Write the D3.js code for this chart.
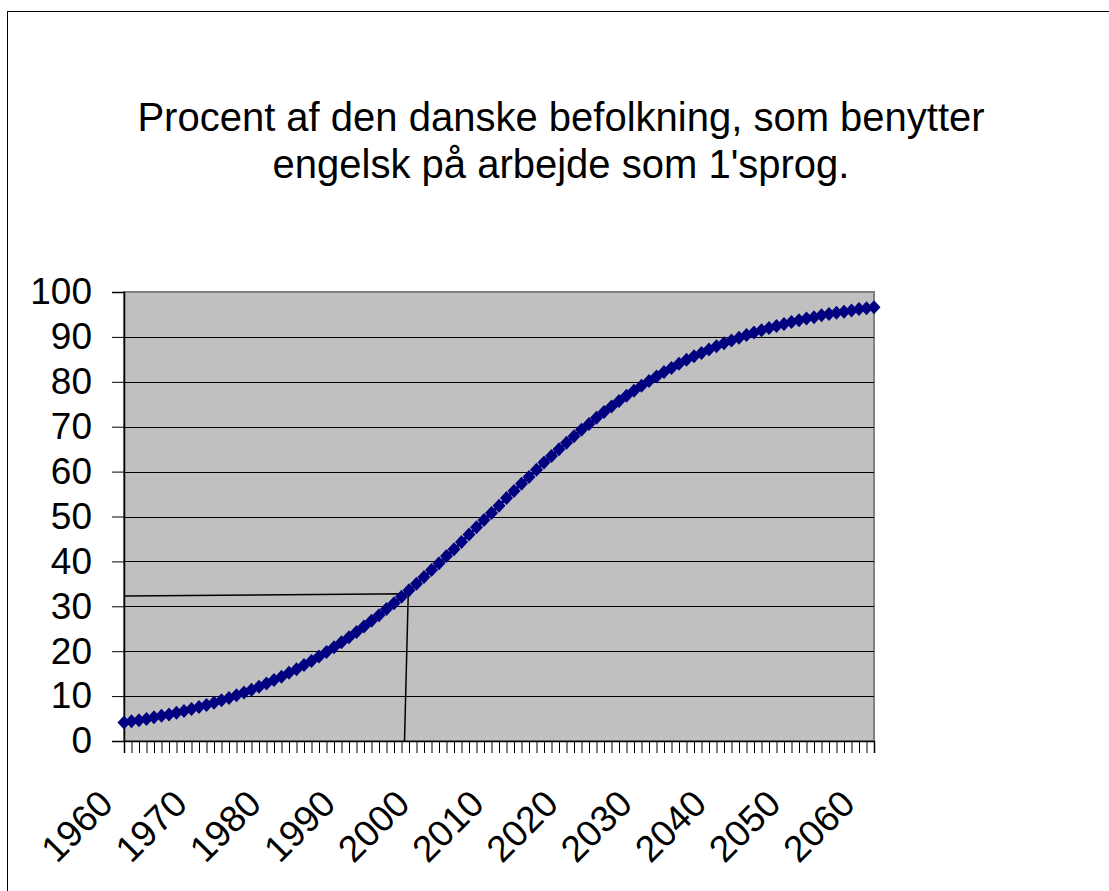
<!DOCTYPE html>
<html>
<head>
<meta charset="utf-8">
<script src="https://cdn.jsdelivr.net/npm/d3@7"></script>
<style>
  body { margin: 0; background: #fff; }
  text { font-family: "Liberation Sans", Arial, sans-serif; fill: #000; }
</style>
</head>
<body>
<svg id="chart" width="1109" height="891"></svg>
<script>
const width = 1109;
const height = 891;

// data
const titleLines = ["Procent af den danske befolkning, som benytter", "engelsk på arbejde som 1'sprog."];
const years = d3.range(1960, 2061);
const percent = [
    4.1, 4.4, 4.6, 4.9, 5.3, 5.6, 5.9, 6.3, 6.7, 7.1,
    7.6, 8.0, 8.5, 9.1, 9.6, 10.2, 10.8, 11.4, 12.1, 12.8,
    13.6, 14.3, 15.2, 16.0, 16.9, 17.8, 18.8, 19.8, 20.9, 22.0,
    23.1, 24.3, 25.5, 26.8, 28.0, 29.4, 30.7, 32.1, 33.6, 35.0,
    36.5, 38.1, 39.6, 41.2, 42.7, 44.3, 46.0, 47.6, 49.2, 50.8,
    52.4, 54.1, 55.7, 57.3, 58.8, 60.4, 62.0, 63.5, 65.0, 66.4,
    67.9, 69.3, 70.6, 72.0, 73.3, 74.5, 75.7, 76.9, 78.0, 79.1,
    80.2, 81.2, 82.2, 83.1, 84.0, 84.9, 85.7, 86.4, 87.2, 87.9,
    88.6, 89.2, 89.8, 90.4, 91.0, 91.5, 92.0, 92.4, 92.9, 93.3,
    93.7, 94.1, 94.4, 94.8, 95.1, 95.4, 95.6, 95.9, 96.2, 96.4,
    96.6
];
const yTicks = [0, 10, 20, 30, 40, 50, 60, 70, 80, 90, 100];
const xTickLabels = [1960, 1970, 1980, 1990, 2000, 2010, 2020, 2030, 2040, 2050, 2060];
// hand drawn helper lines (year, percent)
const guide = [[1960, 32.3], [1997.9, 32.8], [1997.4, 0]];

const plot = { left: 124, right: 874, top: 292, bottom: 741 };

const svg = d3.select("#chart");

const x = d3.scaleLinear().domain([1960, 2060]).range([plot.left, plot.right]);
const y = d3.scaleLinear().domain([0, 100]).range([plot.bottom, plot.top]);
// rotated labels drift a little left of their ticks, as in the original
const xLabel = d3.scaleLinear().domain([1960, 2060]).range([plot.left - 10, plot.right - 18]);

// outer frame
svg.append("rect")
    .attr("x", 7.5).attr("y", 11.5)
    .attr("width", width + 10).attr("height", height + 10)
    .attr("fill", "#fff").attr("stroke", "#000").attr("stroke-width", 1);

// title
svg.append("g").selectAll("text")
    .data(titleLines)
    .enter()
    .append("text")
    .attr("x", 561)
    .attr("y", (d, i) => 131 + i * 47)
    .attr("text-anchor", "middle")
    .style("font-size", "40px")
    .text(d => d);

// plot area
svg.append("rect")
    .attr("x", plot.left).attr("y", plot.top)
    .attr("width", plot.right - plot.left).attr("height", plot.bottom - plot.top)
    .attr("fill", "#c0c0c0")
    .attr("stroke", "#808080").attr("stroke-width", 2);

// gridlines
svg.append("g").selectAll("line")
    .data(yTicks.filter(d => d > 0 && d < 100))
    .enter()
    .append("line")
    .attr("x1", plot.left).attr("x2", plot.right)
    .attr("y1", d => Math.round(y(d)) + 0.5).attr("y2", d => Math.round(y(d)) + 0.5)
    .attr("stroke", "#000").attr("stroke-width", 1);

// y axis
const yAxis = d3.axisLeft(y).tickValues(yTicks).tickSize(12).tickPadding(20);
const gy = svg.append("g")
    .attr("transform", "translate(" + plot.left + ",0)")
    .call(yAxis);
gy.selectAll("text").style("font-size", "37px");

// x axis: one tick per year, labels every tenth
const xAxis = d3.axisBottom(x).tickValues(years).tickSize(12).tickFormat("");
const gx = svg.append("g")
    .attr("transform", "translate(0," + plot.bottom + ")")
    .call(xAxis);
[gx, gy].forEach(g => {
    g.select(".domain").attr("stroke", "#000").attr("stroke-width", 1.5);
    g.selectAll(".tick line").attr("stroke", "#000");
});

svg.append("g").selectAll("text")
    .data(xTickLabels)
    .enter()
    .append("text")
    .attr("text-anchor", "end")
    .attr("transform", d => "translate(" + (xLabel(d) + 1) + "," + (plot.bottom + 65) + ") rotate(-45)")
    .style("font-size", "37px")
    .text(d => d);

// helper lines
svg.append("path")
    .datum(guide)
    .attr("fill", "none")
    .attr("stroke", "#000")
    .attr("stroke-width", 1.5)
    .attr("d", d3.line().x(d => x(d[0])).y(d => y(d[1])));

// series
const series = years.map((yr, i) => ({ year: yr, value: percent[i] }));

svg.append("path")
    .datum(series)
    .attr("fill", "none")
    .attr("stroke", "#000080")
    .attr("stroke-width", 3)
    .attr("d", d3.line().x(d => x(d.year)).y(d => y(d.value)));

svg.append("g").selectAll("path")
    .data(series)
    .enter()
    .append("path")
    .attr("d", "M0,-7L6.5,0L0,7L-6.5,0Z")
    .attr("fill", "#000080")
    .attr("transform", d => "translate(" + x(d.year) + "," + y(d.value) + ")");
</script>
</body>
</html>
